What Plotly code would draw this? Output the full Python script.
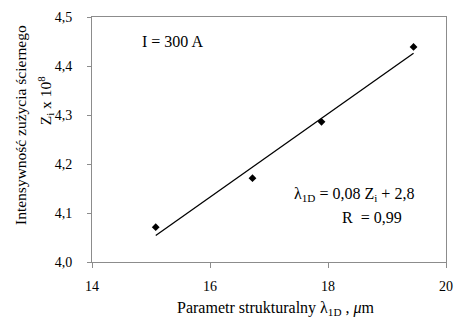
import numpy as np
import plotly.graph_objects as go

# Data
lambda_1d = [15.08, 16.72, 17.89, 19.45]      # Parametr strukturalny λ1D, µm
z_i = [4.071, 4.171, 4.286, 4.439]            # Zi x 10^8
x_ticks = [14, 16, 18, 20]
y_ticks = [4.0, 4.1, 4.2, 4.3, 4.4, 4.5]

# linear trend line fitted to the points
coef = np.polyfit(lambda_1d, z_i, 1)
fit_x = [min(lambda_1d), max(lambda_1d)]
fit_y = list(np.polyval(coef, fit_x))

FONT = "Liberation Serif"
AX = "#8c8c8c"

fig = go.Figure()
fig.add_trace(go.Scatter(x=fit_x, y=fit_y, mode="lines",
                         line=dict(color="black", width=1.3), showlegend=False))
fig.add_trace(go.Scatter(x=lambda_1d, y=z_i, mode="markers",
                         marker=dict(symbol="diamond", size=6, color="black"),
                         showlegend=False))

fig.update_layout(
    width=460, height=322,
    margin=dict(l=92, r=7, t=17, b=60),
    paper_bgcolor="white", plot_bgcolor="white",
    separators=", ",
    font=dict(family=FONT, size=14, color="black"),
    xaxis=dict(range=[14, 20], tickvals=x_ticks, showgrid=False, zeroline=False,
               showline=True, linecolor=AX, linewidth=1, mirror=True,
               ticks="outside", tickcolor=AX, ticklen=5, ticklabelstandoff=6,
               tickfont=dict(family=FONT, size=14, color="black")),
    yaxis=dict(range=[4.0, 4.5], tickvals=y_ticks, tickformat=".1f", showgrid=False,
               zeroline=False, showline=True, linecolor=AX, linewidth=1, mirror=True,
               ticks="outside", tickcolor=AX, ticklen=4, ticklabelstandoff=12,
               tickfont=dict(family=FONT, size=14, color="black")),
)

ann = [
    dict(text="Intensywność zużycia ściernego", x=-0.2, y=0.56, textangle=-90, size=15.5),
    dict(text="Z<sub>i</sub> x 10<sup>8</sup>", x=-0.13, y=0.66, textangle=-90, size=15.5),
    dict(text="Parametr strukturalny λ<sub>1D</sub> , <i>μ</i>m", x=0.52, y=-0.19, size=16),
    dict(text="I = 300 A", x=0.228, y=0.9, size=16),
    dict(text="λ<sub>1D</sub> = 0,08 Z<sub>i</sub> + 2,8", x=0.74, y=0.275, size=16),
    dict(text="R  = 0,99", x=0.79, y=0.18, size=16),
]
for a in ann:
    size = a.pop("size")
    fig.add_annotation(xref="paper", yref="paper", showarrow=False,
                       xanchor="center", yanchor="middle",
                       font=dict(family=FONT, size=size, color="black"), **a)

fig.write_html("out.html", config={"displayModeBar": False},
               post_script="document.body.style.margin='0';")
